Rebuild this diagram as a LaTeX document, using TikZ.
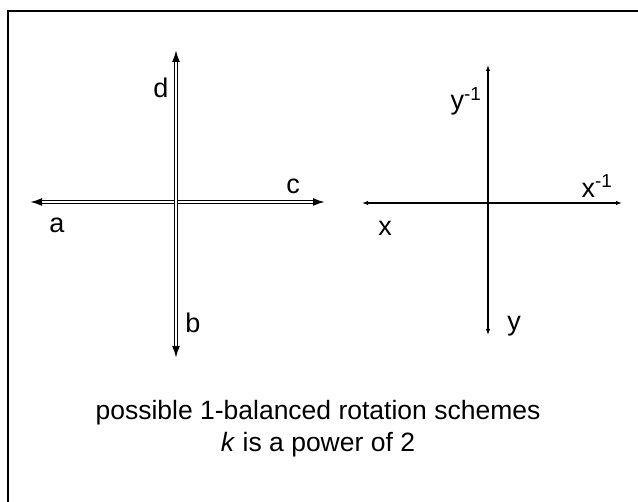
\documentclass[tikz,border=0pt]{standalone}
\usepackage{fontspec}
\setmainfont{Liberation Sans}
\usepackage{tikz}
\usetikzlibrary{arrows.meta}
\tikzset{
  dblaxis/.style={draw=black,double=white,double distance=1.1pt,line width=1.9pt,
    {Latex[length=12pt,width=8pt]}-{Latex[length=12pt,width=8pt]}},
  thinaxis/.style={draw=black,line width=1.9pt,
    {Latex[length=6pt,width=4.5pt]}-{Latex[length=6pt,width=4.5pt]}},
  axlabel/.style={font=\fontsize{27}{30}\selectfont,inner sep=0pt},
  caption/.style={font=\fontsize{26.5}{32}\selectfont,align=center,inner sep=0pt},
  frameline/.style={line width=2.6pt,draw=black}
}
\begin{document}
\begin{tikzpicture}[x=1pt,y=1pt]
  \useasboundingbox (0,0) rectangle (638,502);
  % open frame, top and left only
  \coordinate (frameTL) at (8,491);
  \coordinate (frameTR) at (640,491);
  \coordinate (frameBL) at (8,-2);
  \draw[frameline] (frameTR) -- (frameTL) -- (frameBL);

  % left scheme
  \coordinate (lTop) at (176,452);
  \coordinate (lBot) at (176,144);
  \coordinate (lLeft) at (30,300);
  \coordinate (lRight) at (325,300);
  \draw[dblaxis] (lLeft) -- (lRight);
  \draw[dblaxis] (lBot) -- (lTop);
  \node[axlabel] (labD) at (161,414) {d};
  \node[axlabel] (labC) at (293,316) {c};
  \node[axlabel] (labA) at (57,277) {a};
  \node[axlabel] (labB) at (193,179) {b};

  % right scheme
  \coordinate (rTop) at (488,437);
  \coordinate (rBot) at (488,167);
  \coordinate (rLeft) at (362,299);
  \coordinate (rRight) at (622,299);
  \draw[thinaxis] (rLeft) -- (rRight);
  \draw[thinaxis] (rBot) -- (rTop);
  \node[axlabel] (labYinv) at (466,401) {y\textsuperscript{-1}};
  \node[axlabel] (labXinv) at (597,316) {x\textsuperscript{-1}};
  \node[axlabel] (labX) at (385,274) {x};
  \node[axlabel] (labY) at (514,176) {y};

  \node[caption] (cap) at (318,73) {possible 1-balanced rotation schemes\\\textit{k} is a power of 2};
\end{tikzpicture}
\end{document}
